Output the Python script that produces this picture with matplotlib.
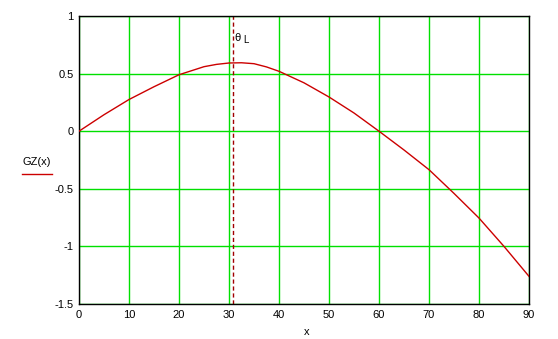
import matplotlib.pyplot as plt
from matplotlib.lines import Line2D

# GZ curve (x in degrees)
x_deg = [0, 5, 10, 15, 20, 25, 27.5, 30, 32.5, 35, 37.5, 40, 45, 50, 55, 60, 65, 70, 75, 80, 85, 90]
gz = [0.0, 0.143, 0.275, 0.386, 0.49, 0.56, 0.58, 0.592, 0.594, 0.586, 0.558, 0.52, 0.42, 0.297,
      0.158, 0.0, -0.163, -0.334, -0.54, -0.754, -1.0, -1.26]
theta_L = 30.8

x_ticks = [0, 10, 20, 30, 40, 50, 60, 70, 80, 90]
y_ticks = [-1.5, -1, -0.5, 0, 0.5, 1]
y_labels = ["-1.5", "-1", "-0.5", "0", "0.5", "1"]

plt.rcParams['font.family'] = ['Liberation Sans', 'DejaVu Sans']

W, H = 558, 339
fig = plt.figure(figsize=(W / 100, H / 100), dpi=100)
ax = fig.add_axes([79 / W, (H - 304) / H, 450 / W, 288 / H])

ax.plot(x_deg, gz, color='#cc0000', linewidth=1.0, zorder=3)
ax.axvline(theta_L, color='#a00000', linestyle=(0, (3, 2)), linewidth=1.0, zorder=2)
ax.text(theta_L + 0.2, 0.81, 'θ', fontsize=8, ha='left', va='center')
ax.text(theta_L + 2.0, 0.79, 'L', fontsize=7, ha='left', va='center')

ax.set_xlim(0, 90)
ax.set_ylim(-1.5, 1)
ax.set_xticks(x_ticks)
ax.set_yticks(y_ticks)
ax.set_yticklabels(y_labels)
ax.tick_params(length=0, labelsize=8, pad=4)
ax.grid(True, color='#00e000', linewidth=1.0, zorder=1)
ax.set_axisbelow(True)
for s in ax.spines.values():
    s.set_color('black')
    s.set_linewidth(1.0)

fig.text(307 / W, 1 - 332 / H, 'x', fontsize=8, ha='center', va='center')
fig.text(37 / W, 1 - 162 / H, 'GZ(x)', fontsize=8, ha='center', va='center')
fig.add_artist(Line2D([22 / W, 52 / W], [1 - 174 / H, 1 - 174 / H], color='#cc0000', linewidth=1.0))

fig.savefig('out.png', dpi=100)
